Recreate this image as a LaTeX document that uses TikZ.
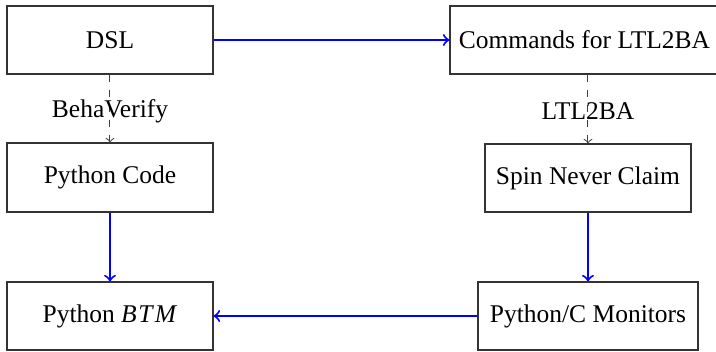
\documentclass[tikz,border=0pt]{standalone}
\usepackage{fontspec}
\setmainfont{Liberation Serif}
\begin{document}
\begin{tikzpicture}[x=0.4pt,y=-0.4pt,
  box/.style={draw=black!80, line width=0.45pt, inner sep=0pt, font=\fontsize{10.2}{12}\selectfont},
  flow/.style={draw=blue, line width=0.8pt, -to},
  gen/.style={draw=black!75, line width=0.4pt, dashed, -to},
  lbl/.style={font=\fontsize{10.2}{12}\selectfont, inner sep=1pt, yshift=-1pt}]
\useasboundingbox (0,0) rectangle (716,352);
\node[box, minimum width=82.4pt, minimum height=27.2pt] (dsl) at (110,40) {DSL};
\node[box, minimum width=107.6pt, minimum height=27.2pt] (cmd) at (584.5,40) {Commands for LTL2BA};
\node[box, minimum width=82.4pt, minimum height=27.6pt] (py) at (110,177.5) {Python Code};
\node[box, minimum width=82.4pt, minimum height=27.2pt] (spin) at (588,178) {Spin Never Claim};
\node[box, minimum width=82.4pt, minimum height=27.2pt] (btm) at (110,316) {Python \textit{B\kern0.6pt T\kern1pt M}};
\node[box, minimum width=88pt, minimum height=27.2pt] (mon) at (588,316) {Python/C Monitors};
\draw[flow] (dsl) -- (cmd);
\draw[gen] (dsl) -- node[lbl]{BehaVerify} (py);
\draw[gen] (spin.north |- cmd.south) -- node[lbl]{LTL2BA} (spin.north);
\draw[flow] (py) -- (btm);
\draw[flow] (spin) -- (mon);
\draw[flow] (mon) -- (btm);
\end{tikzpicture}
\end{document}
